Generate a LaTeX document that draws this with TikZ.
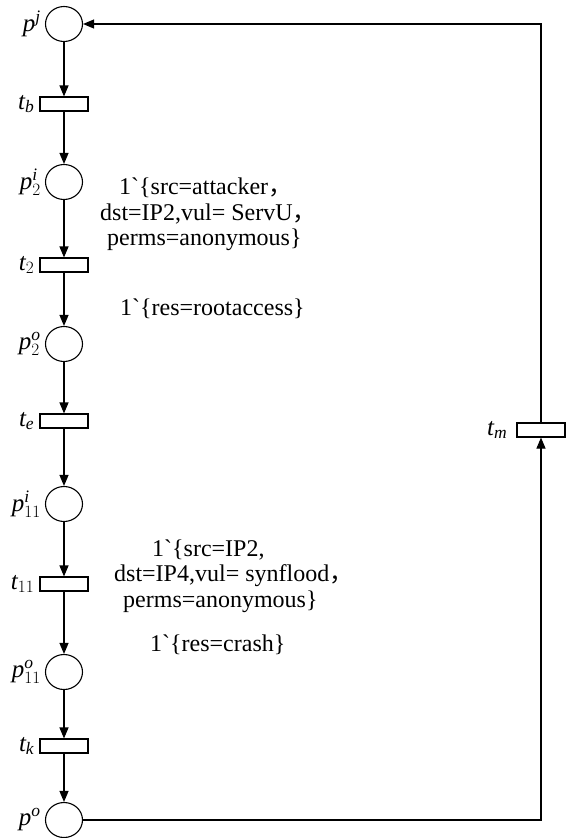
\documentclass[tikz,border=0pt]{standalone}
\usepackage{fontspec}
\setmainfont{Liberation Serif}[Ligatures=TeXOff]
\newfontfamily\cjk{Noto Sans CJK SC}
\usetikzlibrary{arrows.meta,shapes.geometric,positioning}
\newcommand\itx[1]{\mathit{#1}}
\newcommand\bq{\symbol{96}}
\newcommand\fc{{\cjk ，}}
\begin{document}
\begin{tikzpicture}[x=1pt,y=-1pt,
  place/.style={draw, ellipse, minimum width=37pt, minimum height=35pt, inner sep=0pt, line width=1.1pt},
  trans/.style={draw, rectangle, minimum width=48pt, minimum height=14pt, inner sep=0pt, line width=1.1pt},
  lab/.style={font=\fontsize{25}{28}\selectfont, inner sep=0pt},
  ann/.style={font=\fontsize{24}{26}\selectfont, anchor=west, inner sep=0pt},
  arc/.style={line width=1.1pt, -{Triangle[length=11pt,width=9pt]}}]
\useasboundingbox (0,0) rectangle (565,838);
% places and transitions
\node[place] (pj)   at (64,24)  {};
\node[trans] (tb)   at (64,104) {};
\node[place] (p2i)  at (64,182) {};
\node[trans] (t2)   at (64,265) {};
\node[place] (p2o)  at (64,344) {};
\node[trans] (te)   at (64,421) {};
\node[place] (p11i) at (64,504) {};
\node[trans] (t11)  at (64,584) {};
\node[place] (p11o) at (64,672) {};
\node[trans] (tk)   at (64,746) {};
\node[place] (po)   at (64,820) {};
\node[trans] (tm)   at (541,430) {};
% labels
\node[lab, left=4pt of pj]   (lpj)   {$\itx{p}^{\itx{j}}$};
\node[lab, left=5pt of tb]   (ltb)   {$\itx{t}_{\itx{b}}$};
\node[lab, left=4pt of p2i]  (lp2i)  {$\itx{p}_{2}^{\itx{i}}$};
\node[lab, left=5pt of t2]   (lt2)   {$\itx{t}_{2}$};
\node[lab, left=4pt of p2o]  (lp2o)  {$\itx{p}_{2}^{\itx{o}}$};
\node[lab, left=5pt of te]   (lte)   {$\itx{t}_{\itx{e}}$};
\node[lab, left=4pt of p11i] (lp11i) {$\itx{p}_{11}^{\itx{i}}$};
\node[lab, left=5pt of t11]  (lt11)  {$\itx{t}_{11}$};
\node[lab, left=4pt of p11o] (lp11o) {$\itx{p}_{11}^{\itx{o}}$};
\node[lab, left=5pt of tk]   (ltk)   {$\itx{t}_{\itx{k}}$};
\node[lab, left=4pt of po]   (lpo)   {$\itx{p}^{\itx{o}}$};
\node[lab, left=9pt of tm]   (ltm)   {$\itx{t}_{\itx{m}}$};
% annotations
\node[ann] (a1) at (119,188) {1\bq\{src=attacker\fc};
\node[ann] (a2) at (100,214) {dst=IP2,vul= ServU\fc};
\node[ann] (a3) at (107,240) {perms=anonymous\}};
\node[ann] (a4) at (120,309) {1\bq\{res=rootaccess\}};
\node[ann] (b1) at (152,550) {1\bq\{src=IP2,};
\node[ann] (b2) at (114,576) {dst=IP4,vul= synflood\fc};
\node[ann] (b3) at (123,602) {perms=anonymous\}};
\node[ann] (b4) at (150,645) {1\bq\{res=crash\}};
% arcs
\draw[arc] (pj) -- (tb);
\draw[arc] (tb) -- (p2i);
\draw[arc] (p2i) -- (t2);
\draw[arc] (t2) -- (p2o);
\draw[arc] (p2o) -- (te);
\draw[arc] (te) -- (p11i);
\draw[arc] (p11i) -- (t11);
\draw[arc] (t11) -- (p11o);
\draw[arc] (p11o) -- (tk);
\draw[arc] (tk) -- (po);
\draw[arc] (tm) |- (pj);
\draw[arc] (po) -| (tm);
\end{tikzpicture}
\end{document}
